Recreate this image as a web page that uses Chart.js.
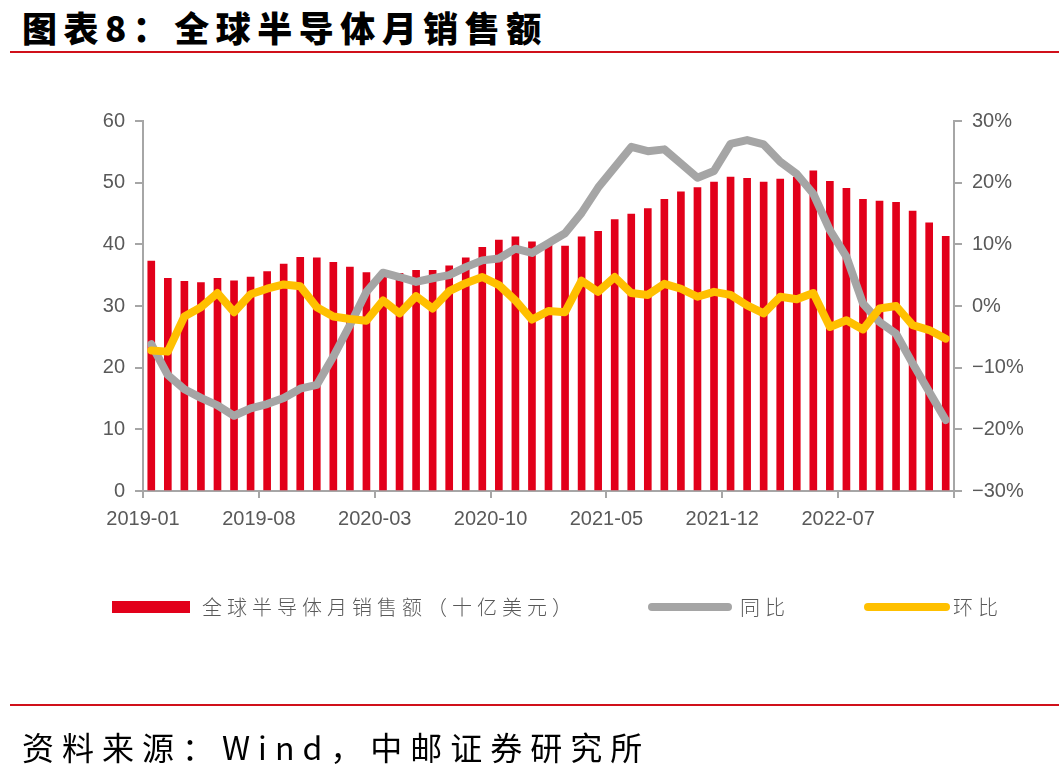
<!DOCTYPE html>
<html>
<head>
<meta charset="utf-8">
<script src="https://cdn.jsdelivr.net/npm/chart.js@4.4.0/dist/chart.umd.min.js"></script>
<style>
  html, body { margin: 0; padding: 0; background: #fff; }
  #page { position: relative; width: 1059px; height: 780px; overflow: hidden; font-family: "Noto Sans CJK SC", sans-serif; }
  #salesChart { position: absolute; left: 0; top: 0; }
  .title { position: absolute; left: 22px; top: 1px; font-size: 35px; font-weight: 900; letter-spacing: 6.5px; color: #000; white-space: nowrap; }
  .rule { position: absolute; left: 10px; right: 0; height: 2px; background: #D0101A; }
  .source { position: absolute; left: 22px; top: 723px; font-size: 32px; font-weight: 400; letter-spacing: 8px; color: #000; white-space: nowrap; }
  .lg-box { position: absolute; }
  .lg-text { position: absolute; top: 594px; font-size: 20px; line-height: 26px; letter-spacing: 5px; color: #595959; white-space: nowrap; font-weight: 300; }
</style>
</head>
<body>
<div id="page">
  <div class="title">图表8：全球半导体月销售额</div>
  <div class="rule" style="top:51px"></div>
  <canvas id="salesChart" width="1059" height="780"></canvas>
  <div class="lg-box" style="left:112px;top:601px;width:78px;height:12px;background:#E2001A"></div>
  <div class="lg-text" style="left:202px">全球半导体月销售额（十亿美元）</div>
  <div class="lg-box" style="left:648px;top:603px;width:84px;height:8px;border-radius:4px;background:#A5A5A5"></div>
  <div class="lg-text" style="left:740px">同比</div>
  <div class="lg-box" style="left:864px;top:603px;width:86px;height:8px;border-radius:4px;background:#FFC000"></div>
  <div class="lg-text" style="left:953px">环比</div>
  <div class="rule" style="top:704px"></div>
  <div class="source">资料来源：Wind，中邮证券研究所</div>
</div>
<script>
const months = [
  '2019-01','2019-02','2019-03','2019-04','2019-05','2019-06','2019-07','2019-08','2019-09','2019-10','2019-11','2019-12',
  '2020-01','2020-02','2020-03','2020-04','2020-05','2020-06','2020-07','2020-08','2020-09','2020-10','2020-11','2020-12',
  '2021-01','2021-02','2021-03','2021-04','2021-05','2021-06','2021-07','2021-08','2021-09','2021-10','2021-11','2021-12',
  '2022-01','2022-02','2022-03','2022-04','2022-05','2022-06','2022-07','2022-08','2022-09','2022-10','2022-11','2022-12',
  '2023-01'
];
const xTickLabels = ['2019-01','2019-08','2020-03','2020-10','2021-05','2021-12','2022-07'];

// 全球半导体月销售额（十亿美元）
const sales = [37.3,34.5,34.0,33.8,34.5,34.1,34.7,35.6,36.8,37.9,37.8,37.1,
  36.3,35.4,35.0,35.3,35.8,35.8,36.5,37.8,39.5,40.7,41.2,40.4,
  40.0,39.7,41.2,42.1,44.0,44.9,45.8,47.3,48.5,49.2,50.1,50.9,
  50.7,50.1,50.6,50.9,51.9,50.2,49.1,47.3,47.0,46.8,45.4,43.5,
  41.3];
// 同比 (%)
const yoy = [-6.2,-11.2,-13.5,-14.9,-16.1,-17.8,-16.6,-15.9,-14.9,-13.4,-12.8,-8.2,
  -3.1,2.3,5.4,4.7,3.9,4.5,5.0,6.3,7.4,7.7,9.3,8.6,
  10.2,11.8,15.1,19.2,22.5,25.8,25.1,25.4,23.1,20.8,21.9,26.3,
  26.9,26.2,23.4,21.4,18.2,12.3,8.0,0.4,-2.6,-4.5,-9.3,-13.9,
  -18.5];
// 环比 (%)
const mom = [-7.2,-7.4,-1.7,-0.2,2.1,-1.0,1.9,2.8,3.5,3.2,-0.2,-1.7,
  -2.1,-2.4,0.9,-1.2,1.6,-0.4,2.4,3.7,4.7,3.4,0.9,-2.2,
  -0.8,-1.0,4.1,2.3,4.7,2.1,1.8,3.6,2.8,1.5,2.3,1.8,
  0.1,-1.2,1.5,1.1,2.1,-3.4,-2.3,-3.8,-0.4,0.0,-3.1,-3.9,
  -5.3];

// each month sits in the middle of its slot, ticks fall on slot edges
const toPoints = arr => arr.map((v, i) => ({ x: i + 0.5, y: v }));

const axisGrey = '#A6A6A6';
const labelGrey = '#595959';
const tickFont = { family: '"Liberation Sans", Arial, sans-serif', size: 20 };

document.addEventListener('DOMContentLoaded', () => {
    const ctx = document.getElementById('salesChart').getContext('2d');

    new Chart(ctx, {
        type: 'bar',
        data: {
            datasets: [{
                type: 'line',
                label: '环比',
                data: toPoints(mom),
                yAxisID: 'y1',
                borderColor: '#FFC000',
                borderWidth: 8,
                borderJoinStyle: 'round',
                borderCapStyle: 'round',
                pointRadius: 0,
                tension: 0,
                order: 1
            }, {
                type: 'line',
                label: '同比',
                data: toPoints(yoy),
                yAxisID: 'y1',
                borderColor: '#A5A5A5',
                borderWidth: 8,
                borderJoinStyle: 'round',
                borderCapStyle: 'round',
                pointRadius: 0,
                tension: 0,
                order: 2
            }, {
                label: '全球半导体月销售额（十亿美元）',
                data: toPoints(sales),
                yAxisID: 'y',
                backgroundColor: '#E2001A',
                barThickness: 7,
                order: 3
            }]
        },
        options: {
            responsive: false,
            animation: false,
            layout: { padding: { top: 121, left: 0, right: 0, bottom: 0 } },
            plugins: { legend: { display: false }, tooltip: { enabled: false } },
            scales: {
                x: {
                    type: 'linear',
                    offset: false,
                    min: 0,
                    max: months.length,
                    afterFit: s => { s.height = 289; },
                    afterBuildTicks: s => {
                        s.ticks = [];
                        for (let v = 0; v <= months.length; v += 7) s.ticks.push({ value: v });
                    },
                    ticks: {
                        autoSkip: false,
                        maxRotation: 0,
                        padding: 9,
                        color: labelGrey,
                        font: tickFont,
                        callback: v => xTickLabels[v / 7] || ''
                    },
                    grid: { offset: false, drawOnChartArea: false, color: axisGrey, lineWidth: 2, tickLength: 7 },
                    border: { color: axisGrey, width: 2 }
                },
                y: {
                    position: 'left',
                    min: 0,
                    max: 60,
                    afterFit: s => { s.width = 143; },
                    ticks: { stepSize: 10, padding: 10, color: labelGrey, font: tickFont },
                    grid: { drawOnChartArea: false, color: axisGrey, lineWidth: 2, tickLength: 8 },
                    border: { color: axisGrey, width: 2 }
                },
                y1: {
                    position: 'right',
                    min: -30,
                    max: 30,
                    afterFit: s => { s.width = 105; },
                    ticks: {
                        stepSize: 10,
                        padding: 10,
                        color: labelGrey,
                        font: tickFont,
                        callback: v => (v < 0 ? '\u2212' + Math.abs(v) : v) + '%'
                    },
                    grid: { drawOnChartArea: false, color: axisGrey, lineWidth: 2, tickLength: 8 },
                    border: { color: axisGrey, width: 2 }
                }
            }
        }
    });
});
</script>
</body>
</html>
